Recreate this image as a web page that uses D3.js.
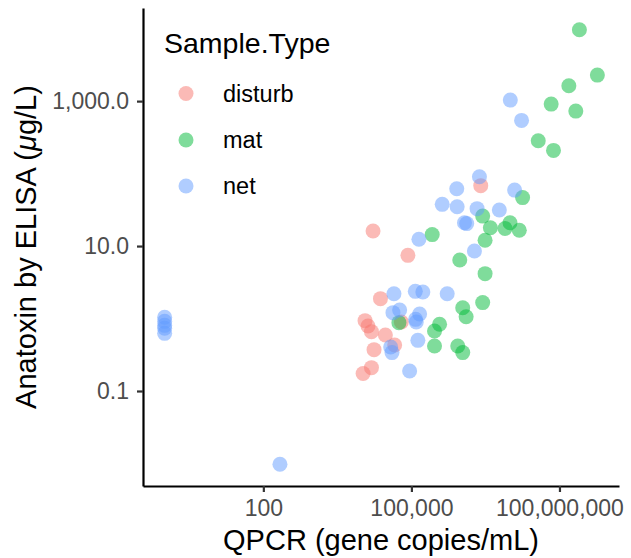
<!DOCTYPE html>
<html>
<head>
<meta charset="utf-8">
<script src="https://cdn.jsdelivr.net/npm/d3@7"></script>
<style>
  html, body { margin: 0; padding: 0; background: #fff; }
  svg { display: block; }
  text { font-family: "Liberation Sans", Arial, Helvetica, sans-serif; }
</style>
</head>
<body>
<svg id="chart" width="631" height="558"></svg>
<script>
// ---- Data ----
const groups = ["disturb", "mat", "net"];
const groupColors = ["#F8766D", "#00BA38", "#619CFF"];

const disturbQPCR = [16700, 2540000, 84900, 23600, 11500, 13200, 15500, 29700, 62500, 17500, 45800, 15500, 10500];
const disturbELISA = [16.1, 68.1, 7.45, 1.88, 0.935, 0.789, 0.659, 0.592, 0.895, 0.372, 0.431, 0.210, 0.174];

const matQPCR = [2.535e8, 5.86e8, 1.549e8, 6.79e7, 2.143e8, 3.715e7, 7.57e7, 1.79e7, 2.78e6, 3.98e6,
                 9.95e6, 7.89e6, 1.535e7, 2.64e5, 3.11e6, 9.55e5, 3.11e6, 1.096e6, 2.78e6, 1.285e6,
                 3.72e5, 2.94e5, 2.94e5, 8.69e5, 1.096e6, 5.58e4];
const matELISA = [9660, 2286, 1629, 910, 728, 284, 209, 46.6, 25.9, 17.9,
                  21.0, 17.5, 16.5, 14.4, 12.0, 6.41, 4.16, 1.41, 1.66, 1.06,
                  0.832, 0.673, 0.418, 0.418, 0.339, 0.877];

const netQPCR = [1.009e7, 1.706e7, 2.39e6, 8.30e5, 1.233e7, 4.21e5, 8.45e5, 2.14e6, 6.05e6, 1.189e6,
                 1.321e6, 1.419e5, 1.892e6, 4.43e4, 1.20e5, 1.706e5, 5.31e5, 4.23e4, 5.78e4, 1.216e5,
                 1.466e5, 1.256e5, 1.352e5, 3.80e4, 4.04e4, 9.20e4, 217, 1, 1, 1, 1, 1];
const netELISA = [1033, 542, 90.6, 61.9, 59.2, 37.6, 34.9, 32.8, 31.4, 21.0,
                  20.4, 12.4, 8.53, 2.20, 2.37, 2.32, 2.20, 1.205, 1.31, 0.975,
                  1.153, 0.895, 0.500, 0.405, 0.339, 0.189, 0.00975, 1.04, 0.914, 0.805, 0.733, 0.625];

const xTicks = [100, 1e5, 1e8];
const yTicks = [0.1, 10, 1000];

// ---- Build rows ----
const rows = [];
[[disturbQPCR, disturbELISA, "disturb"], [matQPCR, matELISA, "mat"], [netQPCR, netELISA, "net"]]
  .forEach(([xs, ys, g]) => xs.forEach((x, i) => rows.push({ x, y: ys[i], g })));

// ---- Layout ----
const svg = d3.select("#chart");
const panel = { left: 143, right: 619, top: 8, bottom: 486 };

function expandLog(ext) {
  const a = Math.log10(ext[0]), b = Math.log10(ext[1]);
  const d = (b - a) * 0.05;
  return [Math.pow(10, a - d), Math.pow(10, b + d)];
}

const x = d3.scaleLog().domain(expandLog(d3.extent(rows, d => d.x))).range([panel.left, panel.right]);
const y = d3.scaleLog().domain(expandLog(d3.extent(rows, d => d.y))).range([panel.bottom, panel.top]);
const color = d3.scaleOrdinal().domain(groups).range(groupColors);

// ---- Points ----
svg.append("g").selectAll("circle").data(rows).join("circle")
  .attr("cx", d => x(d.x))
  .attr("cy", d => y(d.y))
  .attr("r", 7.5)
  .attr("fill", d => color(d.g))
  .attr("fill-opacity", 0.5);

// ---- Axes ----
const xAxis = svg.append("g")
  .attr("transform", `translate(0,${panel.bottom})`)
  .call(d3.axisBottom(x).tickValues(xTicks).tickFormat(d3.format(",")).tickSize(6).tickSizeOuter(0).tickPadding(8));
const yAxis = svg.append("g")
  .attr("transform", `translate(${panel.left},0)`)
  .call(d3.axisLeft(y).tickValues(yTicks).tickFormat(d3.format(",.1f")).tickSize(6).tickSizeOuter(0).tickPadding(8));

[xAxis, yAxis].forEach(a => {
  a.select(".domain").attr("stroke", "#000").attr("stroke-width", 2.2);
  a.selectAll(".tick line").attr("stroke", "#333").attr("stroke-width", 2.2);
  a.selectAll(".tick text").attr("fill", "#4D4D4D").style("font-size", "23px")
    .style("font-family", '"Liberation Sans", Arial, Helvetica, sans-serif');
});

// ---- Axis titles ----
svg.append("text")
  .attr("x", (panel.left + panel.right) / 2)
  .attr("y", 550)
  .attr("text-anchor", "middle")
  .style("font-size", "29px")
  .attr("fill", "#000")
  .text("QPCR (gene copies/mL)");

const yt = svg.append("text")
  .attr("transform", `translate(36,${(panel.top + panel.bottom) / 2}) rotate(-90)`)
  .attr("text-anchor", "middle")
  .style("font-size", "29px")
  .attr("fill", "#000");
yt.append("tspan").text("Anatoxin by ELISA (");
yt.append("tspan").style("font-style", "italic").text("\u03BC");
yt.append("tspan").text("g/L)");

// ---- Legend ----
const legend = svg.append("g");
legend.append("text")
  .attr("x", 164).attr("y", 53)
  .style("font-size", "28.5px")
  .attr("fill", "#000")
  .text("Sample.Type");
const keyY = [93.5, 140, 186];
legend.selectAll("circle.key").data(groups).join("circle")
  .attr("class", "key")
  .attr("cx", 186)
  .attr("cy", (d, i) => keyY[i])
  .attr("r", 7.5)
  .attr("fill", d => color(d))
  .attr("fill-opacity", 0.5);
legend.selectAll("text.lab").data(groups).join("text")
  .attr("class", "lab")
  .attr("x", 223)
  .attr("y", (d, i) => keyY[i])
  .attr("dy", "0.36em")
  .style("font-size", "23.5px")
  .attr("fill", "#000")
  .text(d => d);
</script>
</body>
</html>
